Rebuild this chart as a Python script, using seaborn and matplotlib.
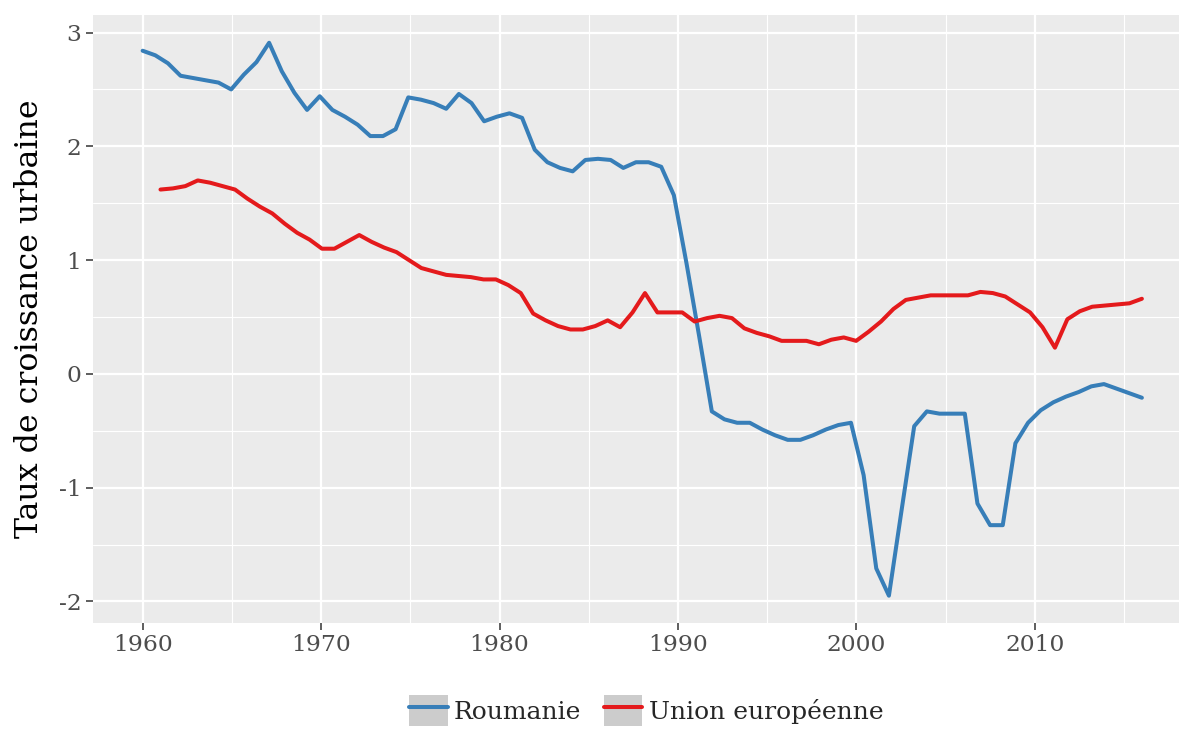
import numpy as np
import pandas as pd
import matplotlib
matplotlib.use("Agg")
import matplotlib.pyplot as plt
import seaborn as sns
from matplotlib.lines import Line2D
from matplotlib.patches import Patch
from matplotlib.ticker import MultipleLocator

# taux de croissance urbaine (%), relevés sur le graphique
# les points sont régulièrement espacés (80 points par série)
annees_roumanie = np.linspace(1960, 2016, 80)
taux_roumanie = [
    2.84, 2.80, 2.73, 2.62, 2.60, 2.58, 2.56, 2.50, 2.63, 2.74,
    2.91, 2.66, 2.47, 2.32, 2.44, 2.32, 2.26, 2.19, 2.09, 2.09,
    2.15, 2.43, 2.41, 2.38, 2.33, 2.46, 2.38, 2.22, 2.26, 2.29,
    2.25, 1.97, 1.86, 1.81, 1.78, 1.88, 1.89, 1.88, 1.81, 1.86,
    1.86, 1.82, 1.57, 0.97, 0.33, -0.33, -0.40, -0.43, -0.43, -0.49,
    -0.54, -0.58, -0.58, -0.54, -0.49, -0.45, -0.43, -0.89, -1.71, -1.95,
    -1.20, -0.46, -0.33, -0.35, -0.35, -0.35, -1.14, -1.33, -1.33, -0.61,
    -0.43, -0.32, -0.25, -0.20, -0.16, -0.11, -0.09, -0.13, -0.17, -0.21,
]

annees_ue = np.linspace(1961, 2016, 80)
taux_ue = [
    1.62, 1.63, 1.65, 1.70, 1.68, 1.65, 1.62, 1.54, 1.47, 1.41,
    1.32, 1.24, 1.18, 1.10, 1.10, 1.16, 1.22, 1.16, 1.11, 1.07,
    1.00, 0.93, 0.90, 0.87, 0.86, 0.85, 0.83, 0.83, 0.78, 0.71,
    0.53, 0.47, 0.42, 0.39, 0.39, 0.42, 0.47, 0.41, 0.54, 0.71,
    0.54, 0.54, 0.54, 0.46, 0.49, 0.51, 0.49, 0.40, 0.36, 0.33,
    0.29, 0.29, 0.29, 0.26, 0.30, 0.32, 0.29, 0.37, 0.46, 0.57,
    0.65, 0.67, 0.69, 0.69, 0.69, 0.69, 0.72, 0.71, 0.68, 0.61,
    0.54, 0.41, 0.23, 0.48, 0.55, 0.59, 0.60, 0.61, 0.62, 0.66,
]

zones = ["Roumanie", "Union européenne"]
couleurs = {"Roumanie": "#377EB8", "Union européenne": "#E41A1C"}

df = pd.concat([
    pd.DataFrame({"annee": annees_roumanie, "taux": taux_roumanie, "zone": zones[0]}),
    pd.DataFrame({"annee": annees_ue, "taux": taux_ue, "zone": zones[1]}),
], ignore_index=True)

sns.set_theme(style="darkgrid", rc={
    "axes.facecolor": "#EBEBEB",
    "grid.color": "white",
    "axes.edgecolor": "#EBEBEB",
})
plt.rcParams["font.family"] = ["DejaVu Serif"]
plt.rcParams["axes.unicode_minus"] = False

fig = plt.figure(figsize=(11.79, 7.29), dpi=100)
ax = fig.add_axes([0.0786, 0.1454, 0.9323, 0.834])

sns.lineplot(data=df, x="annee", y="taux", hue="zone", palette=couleurs,
             estimator=None, sort=False, linewidth=2.9, legend=False, ax=ax)

ax.set_xlim(1957.2, 2018.8)
ax.set_ylim(-2.19, 3.154)
ax.xaxis.set_major_locator(MultipleLocator(10))
ax.xaxis.set_minor_locator(MultipleLocator(5))
ax.yaxis.set_major_locator(MultipleLocator(1))
ax.yaxis.set_minor_locator(MultipleLocator(0.5))
ax.grid(which="major", color="white", linewidth=1.6)
ax.grid(which="minor", color="white", linewidth=0.8)
ax.set_axisbelow(True)
for s in ax.spines.values():
    s.set_visible(False)

ax.tick_params(which="major", length=5, width=1.1, color="#333333",
               labelsize=16.8, labelcolor="#4D4D4D", pad=3,
               left=True, bottom=True)
ax.tick_params(which="minor", length=0)

ax.set_xlabel("")
ax.set_ylabel("Taux de croissance urbaine", fontsize=22.8, color="black", labelpad=10)

handles = [(Patch(facecolor="#CCCCCC", edgecolor="none"),
            Line2D([], [], color=couleurs[z], linewidth=2.9)) for z in zones]
fig.legend(handles, zones, loc="upper center", bbox_to_anchor=(0.548, 0.0466),
           ncol=2, frameon=False, fontsize=18, handlelength=1.55,
           handleheight=1.55, handletextpad=0.25, columnspacing=0.9,
           borderpad=0, borderaxespad=0)

fig.savefig("out.png", dpi=100)
